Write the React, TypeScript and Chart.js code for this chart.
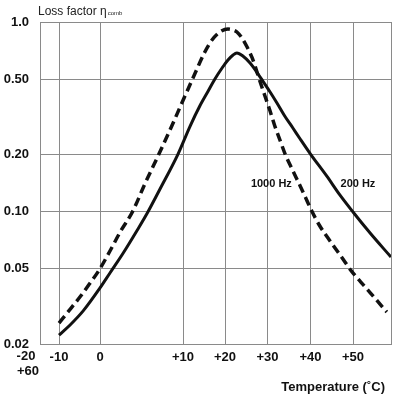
import React, { useEffect, useRef } from "react";
import { Chart, registerables } from "chart.js";

Chart.register(...registerables);

// Temperature axis of the original is non-uniform: tick temperatures and their relative axis stops
const tempTicks = [-20, -10, 0, 10, 20, 30, 40, 50, 60];
const tempTickLabels = ["", "-10", "0", "+10", "+20", "+30", "+40", "+50", ""];
const axisStops = [0, 19, 60, 143, 185, 227.5, 270.5, 313, 351];

const yTicks = [1.0, 0.5, 0.2, 0.1, 0.05, 0.02];
const yTickLabels = ["1.0", "0.50", "0.20", "0.10", "0.05", "0.02"];

// 200 Hz (solid)
const temps200 = [-10, -7.3, -4.1, 0, 1.2, 2.8, 4.5, 5.7, 7.2, 9.4, 11.7, 14.0, 16.0, 17.6, 19.3, 20.7, 21.9, 22.8, 24.2, 25.9, 27.3, 28.9, 30.6, 32.2, 34.0, 35.9, 37.6, 40, 43.8, 46.9, 50, 54.5, 60];
const loss200 = [0.0223, 0.0252, 0.0299, 0.0395, 0.0474, 0.0604, 0.0799, 0.0982, 0.1307, 0.201, 0.2826, 0.3603, 0.4325, 0.5003, 0.572, 0.630, 0.670, 0.686, 0.6615, 0.6075, 0.5512, 0.488, 0.4272, 0.3737, 0.3192, 0.2759, 0.2414, 0.201, 0.154, 0.1223, 0.0994, 0.077, 0.0575];

// 1000 Hz (dashed)
const temps1000 = [-10, -8.0, -4.9, -2.4, -0.2, 1.2, 2.5, 3.9, 5.4, 7.1, 8.7, 9.6, 11.0, 12.9, 15.2, 16.9, 18.8, 20.7, 21.9, 22.8, 24.0, 25.2, 26.4, 27.3, 28.2, 29.4, 30.6, 31.7, 32.9, 34.1, 35.7, 37.6, 39.0, 40.3, 42.2, 44.6, 47.3, 49.6, 53.2, 56.2, 58.9];
const loss1000 = [0.0258, 0.0292, 0.0354, 0.042, 0.0491, 0.0619, 0.0789, 0.0994, 0.1397, 0.201, 0.286, 0.352, 0.4325, 0.538, 0.695, 0.803, 0.886, 0.918, 0.907, 0.886, 0.823, 0.738, 0.646, 0.565, 0.488, 0.407, 0.339, 0.2826, 0.2384, 0.201, 0.1677, 0.1364, 0.1165, 0.1006, 0.0839, 0.0699, 0.0575, 0.0486, 0.040, 0.0341, 0.0295];

const seriesLabels = ["200 Hz", "1000 Hz"];
const annotTemps = [51.3, 30.9];
const annotValues = [0.14, 0.14];

function warp(t: number): number {
  if (t <= tempTicks[0]) return axisStops[0];
  for (let i = 1; i < tempTicks.length; i++) {
    if (t <= tempTicks[i]) {
      const f = (t - tempTicks[i - 1]) / (tempTicks[i] - tempTicks[i - 1]);
      return axisStops[i - 1] + f * (axisStops[i] - axisStops[i - 1]);
    }
  }
  return axisStops[axisStops.length - 1];
}

const FONT = "'Liberation Sans', Arial, sans-serif";

const textPlugin = {
  id: "texts",
  afterDraw(chart: any) {
    const { ctx, chartArea, scales } = chart;
    ctx.save();
    ctx.fillStyle = "#222";
    // y title
    ctx.font = `12px ${FONT}`;
    ctx.textAlign = "left";
    ctx.textBaseline = "alphabetic";
    const t = "Loss factor η";
    ctx.fillText(t, chartArea.left - 2, 15);
    const w = ctx.measureText(t).width;
    ctx.font = `6px ${FONT}`;
    ctx.fillText("comb", chartArea.left - 2 + w + 1, 15);
    // x title
    ctx.fillStyle = "#111";
    ctx.font = `bold 13px ${FONT}`;
    ctx.textAlign = "right";
    ctx.textBaseline = "middle";
    ctx.fillText("Temperature (˚C)", chartArea.right - 6, 387);
    // left-edge labels
    ctx.textAlign = "center";
    ctx.fillText("-20", chartArea.left - 14, chartArea.bottom + 12);
    ctx.fillText("+60", chartArea.left - 12, chartArea.bottom + 27);
    // series annotations
    ctx.font = `bold 11px ${FONT}`;
    for (let i = 0; i < seriesLabels.length; i++) {
      const x = scales.x.getPixelForValue(warp(annotTemps[i]));
      const y = scales.y.getPixelForValue(annotValues[i]);
      ctx.fillText(seriesLabels[i], x, y);
    }
    ctx.restore();
  },
};

export default function App() {
  const ref = useRef<HTMLCanvasElement>(null);
  useEffect(() => {
    if (!ref.current) return;
    const chart = new Chart(ref.current, {
      type: "line",
      data: {
        datasets: [
          {
            label: seriesLabels[0],
            data: temps200.map((t, i) => ({ x: warp(t), y: loss200[i] })),
            borderColor: "#111",
            borderWidth: 3,
            pointRadius: 0,
            cubicInterpolationMode: "monotone",
            fill: false,
          },
          {
            label: seriesLabels[1],
            data: temps1000.map((t, i) => ({ x: warp(t), y: loss1000[i] })),
            borderColor: "#111",
            borderWidth: 3.5,
            borderDash: [9, 5],
            pointRadius: 0,
            cubicInterpolationMode: "monotone",
            fill: false,
          },
        ],
      },
      options: {
        animation: false,
        responsive: true,
        maintainAspectRatio: false,
        layout: { padding: { top: 22, right: 9, left: 0, bottom: 0 } },
        plugins: { legend: { display: false }, tooltip: { enabled: false }, title: { display: false } },
        scales: {
          x: {
            type: "linear",
            min: axisStops[0],
            max: axisStops[axisStops.length - 1],
            afterBuildTicks: (s: any) => {
              s.ticks = tempTicks.map((t) => ({ value: warp(t) }));
            },
            afterFit: (s: any) => {
              s.height = 53;
            },
            grid: { color: "#8a8a8a", lineWidth: 1, drawTicks: false },
            border: { color: "#8a8a8a" },
            ticks: {
              autoSkip: false,
              maxRotation: 0,
              padding: 6,
              color: "#111",
              font: { family: FONT, size: 13, weight: "bold" },
              callback: (_v: any, i: number) => tempTickLabels[i],
            },
          },
          y: {
            type: "logarithmic",
            min: 0.02,
            max: 1.0,
            afterBuildTicks: (s: any) => {
              s.ticks = yTicks.map((v) => ({ value: v }));
            },
            afterFit: (s: any) => {
              s.width = 40;
            },
            grid: { color: "#8a8a8a", lineWidth: 1, drawTicks: false },
            border: { color: "#8a8a8a" },
            ticks: {
              autoSkip: false,
              padding: 11,
              color: "#111",
              font: { family: FONT, size: 13, weight: "bold" },
              callback: (v: any) => {
                const i = yTicks.findIndex((y) => Math.abs(y - v) < 1e-9);
                return i >= 0 ? yTickLabels[i] : "";
              },
            },
          },
        },
      },
      plugins: [textPlugin],
    } as any);
    return () => chart.destroy();
  }, []);
  return (
    <div style={{ position: "fixed", left: 0, top: 0, width: 400, height: 397, background: "#fff" }}>
      <canvas ref={ref} />
    </div>
  );
}
